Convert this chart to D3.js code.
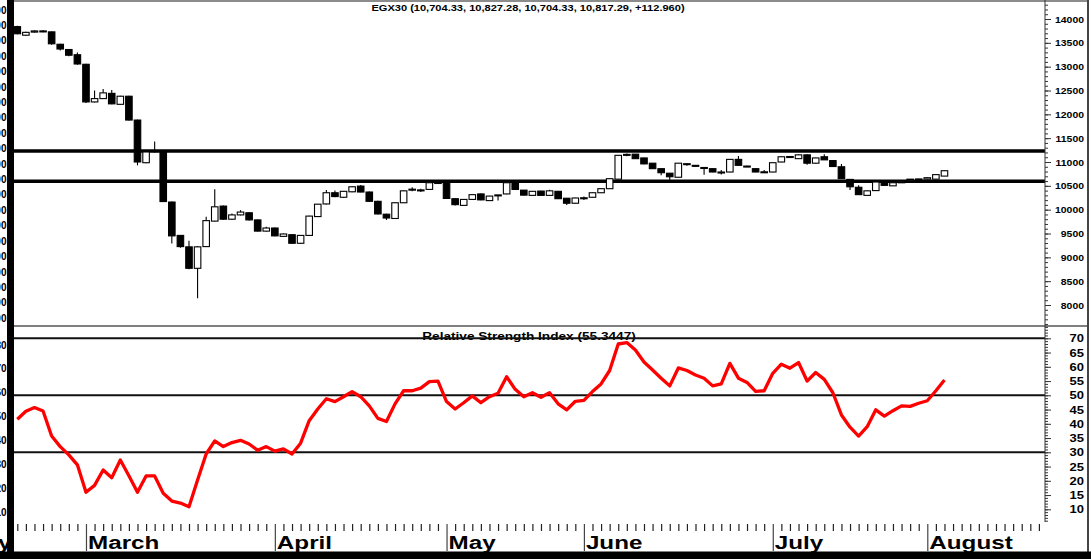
<!DOCTYPE html>
<html>
<head>
<meta charset="utf-8">
<script src="https://cdn.jsdelivr.net/npm/d3@7"></script>
<style>
  body { margin: 0; background: #fff; }
  svg { display: block; font-family: "Liberation Sans", Arial, sans-serif; font-weight: bold; }
</style>
</head>
<body>
<main></main>
<script>
// Data (one value per trading day, Feb - Aug)
const opens = [13840,13660,13725,13740,13730,13470,13360,13250,13050,12260,
  12330,12440,12210,12380,11880,10985,11220,11210,10160,9460,
  9220,8770,9225,9760,10075,9800,9890,9935,9785,9550,
  9615,9440,9475,9295,9460,9855,10120,10355,10260,10375,
  10495,10370,10175,9905,9815,10145,10420,10410,10425,10560,
  10590,10230,10090,10215,10330,10190,10300,10330,10590,10410,
  10300,10390,10300,10385,10240,10135,10240,10260,10355,10440,
  10640,11150,11165,11085,10975,10860,10765,10680,10955,10930,
  10875,10860,10780,10790,11055,10915,10860,10785,10790,11000,
  11115,11070,11150,10975,11110,11030,10900,10635,10470,10300,
  10400,10595,10500,10570,10630,10635,10640,10640,10704.33];
const highs = [13860,13730,13760,13770,13740,13480,13370,13295,13060,12500,
  12530,12510,12390,12390,11890,11215,11430,11220,10170,9470,
  9350,9230,9850,10430,10085,9920,9990,9945,9795,9640,
  9625,9500,9485,9470,9870,10120,10410,10400,10390,10490,
  10520,10380,10185,9915,10150,10400,10470,10440,10580,10600,
  10600,10240,10220,10320,10340,10290,10315,10570,10620,10415,
  10390,10395,10420,10390,10245,10250,10275,10360,10445,10655,
  11145,11180,11170,11090,10980,10865,10770,10980,10975,10935,
  10890,10865,10830,11060,11125,10920,10865,10830,10990,11115,
  11120,11160,11160,11090,11165,11035,10960,10640,10510,10400,
  10585,10600,10570,10590,10645,10650,10680,10740,10827.28];
const lows = [13680,13650,13715,13720,13460,13340,13220,13040,12240,12250,
  12320,12210,12200,11870,10930,10975,11200,10160,9290,9200,
  8750,8140,9215,9750,9790,9790,9880,9775,9540,9540,
  9440,9430,9285,9285,9455,9850,10110,10260,10250,10365,
  10365,10165,9900,9783,9810,10140,10385,10370,10420,10540,
  10225,10090,10085,10210,10195,10185,10190,10325,10420,10295,
  10295,10295,10295,10225,10100,10130,10205,10255,10350,10435,
  10635,11120,11065,10955,10855,10720,10620,10675,10920,10910,
  10735,10785,10740,10785,10925,10895,10785,10780,10785,10995,
  11100,11065,10940,10970,11040,10900,10645,10410,10310,10295,
  10395,10505,10495,10565,10625,10630,10635,10635,10704.33];
const closes = [13690,13720,13750,13750,13480,13370,13240,13056,12260,12330,
  12450,12220,12380,11880,11000,11210,11240,10170,9450,9225,
  8770,9220,9770,10060,9800,9890,9950,9785,9550,9615,
  9450,9490,9295,9460,9865,10115,10355,10275,10385,10480,
  10370,10175,9910,9825,10145,10395,10430,10415,10565,10570,
  10235,10105,10215,10315,10205,10285,10310,10565,10425,10305,
  10385,10300,10395,10230,10135,10245,10250,10355,10440,10650,
  11140,11160,11070,10960,10860,10775,10690,10975,10965,10915,
  10885,10790,10790,11055,10930,10900,10790,10795,10985,11110,
  11105,11150,10975,11085,11045,10905,10650,10480,10315,10395,
  10580,10510,10565,10585,10640,10645,10670,10735,10817.29];
const rsi = [41.6,44.4,45.7,44.5,35.7,32.0,29.1,25.6,16.0,18.4,
  23.8,21.1,27.3,21.8,16.0,21.7,21.7,15.6,12.9,12.2,
  10.9,20.3,29.4,34.0,32.0,33.4,34.2,32.9,30.7,32.0,
  30.4,31.2,29.4,33.2,41.1,45.2,48.8,47.8,49.5,51.3,
  49.5,46.3,41.9,40.8,47.0,51.6,51.6,52.5,54.8,55.0,
  47.8,45.2,47.4,49.8,47.4,49.5,50.7,56.5,52.1,49.5,
  50.9,49.3,50.9,47.0,44.9,47.9,48.2,51.3,54.0,58.7,
  68.0,68.5,65.9,61.7,58.9,56.0,53.3,59.6,58.7,57.1,
  56.0,53.3,54.0,61.2,56.0,54.5,51.4,51.6,57.7,60.9,
  59.5,61.5,55.0,58.0,55.6,50.9,43.1,38.8,35.7,39.0,
  44.9,42.7,44.6,46.3,46.1,47.2,48.1,51.6,55.34];

const priceTicks = [8000, 8500, 9000, 9500, 10000, 10500, 11000, 11500, 12000, 12500, 13000, 13500, 14000];
const rsiTicks = [10, 15, 20, 25, 30, 35, 40, 45, 50, 55, 60, 65, 70];
const priceLevels = [11230, 10595];
const rsiLevels = [70, 50, 30];
const months = ["February", "March", "April", "May", "June", "July", "August"];
const monthStarts = [-13, 8, 30, 50, 66, 88, 106];
// left-hand axis of the original chart, cut off at the frame edge
const leftPriceLabels = [14400, 14100, 13800, 13500, 13200, 12900, 12600, 12300, 12000, 11700, 11400,
  11100, 10800, 10500, 10200, 9900, 9600, 9300, 9000, 8700, 8400];
const leftRsiLabels = [80, 70, 60, 50, 40, 30, 20, 10];

const titleText = "EGX30 (10,704.33, 10,827.28, 10,704.33, 10,817.29, +112.960)";
const rsiTitle = "Relative Strength Index (55.3447)";

// Dimensions
const width = 1091;
const height = 559;
const plotLeft = 14;
const axisX = 1045;

const svg = d3.select("main")
  .append("svg")
  .attr("width", width)
  .attr("height", height);

// Scales
const lastSlot = 119;
const x = d3.scaleLinear().domain([0, lastSlot]).range([17.3, 1038.9]);
const yPrice = d3.scaleLinear().domain([8000, 14000]).range([305, 19]);
const yRsi = d3.scaleLinear().domain([30, 70]).range([452.3, 338.3]);
const yLeftPrice = d3.scaleLinear().domain([14400, 8400]).range([10, 318.3]);
const yLeftRsi = d3.scaleLinear().domain([80, 10]).range([345, 512.7]);
const bodyW = (x(1) - x(0)) * 0.76;

// Frame
svg.append("line")
  .attr("x1", plotLeft).attr("x2", 1088).attr("y1", 1).attr("y2", 1)
  .attr("stroke", "#666").attr("stroke-width", 1.5);
svg.append("line")
  .attr("x1", plotLeft).attr("x2", 1088).attr("y1", 326).attr("y2", 326)
  .attr("stroke", "#555").attr("stroke-width", 1.5);
svg.append("line")
  .attr("x1", 1088).attr("x2", 1088).attr("y1", 0).attr("y2", height)
  .attr("stroke", "#444").attr("stroke-width", 2);

// Price levels
svg.selectAll(".plevel")
  .data(priceLevels)
  .enter()
  .append("line")
  .attr("x1", plotLeft).attr("x2", axisX)
  .attr("y1", d => yPrice(d)).attr("y2", d => yPrice(d))
  .attr("stroke", "#000").attr("stroke-width", 3.5);

// Candles
const idx = d3.range(opens.length);
svg.selectAll(".wick")
  .data(idx)
  .enter()
  .append("line")
  .attr("x1", i => x(i)).attr("x2", i => x(i))
  .attr("y1", i => yPrice(highs[i])).attr("y2", i => yPrice(lows[i]))
  .attr("stroke", "#000").attr("stroke-width", 1.1);

svg.selectAll(".body")
  .data(idx)
  .enter()
  .append("rect")
  .attr("x", i => x(i) - bodyW / 2)
  .attr("y", i => yPrice(Math.max(opens[i], closes[i])))
  .attr("width", bodyW)
  .attr("height", i => Math.max(1, Math.abs(yPrice(opens[i]) - yPrice(closes[i]))))
  .attr("fill", i => closes[i] >= opens[i] ? "#fff" : "#000")
  .attr("stroke", "#000")
  .attr("stroke-width", 1.1);

// Title
svg.append("text")
  .attr("transform", "translate(528,11) scale(1.13,1)")
  .attr("text-anchor", "middle")
  .attr("font-size", 9.8)
  .text(titleText);

// RSI panel
svg.append("text")
  .attr("transform", "translate(529,339.5) scale(1.24,1)")
  .attr("text-anchor", "middle")
  .attr("font-size", 11)
  .text(rsiTitle);

svg.selectAll(".rlevel")
  .data(rsiLevels)
  .enter()
  .append("line")
  .attr("x1", plotLeft).attr("x2", axisX)
  .attr("y1", d => yRsi(d)).attr("y2", d => yRsi(d))
  .attr("stroke", "#111").attr("stroke-width", 2);

const rsiLine = d3.line()
  .x((d, i) => x(i))
  .y(d => yRsi(d));

svg.append("path")
  .datum(rsi)
  .attr("d", rsiLine)
  .attr("fill", "none")
  .attr("stroke", "#ff0000")
  .attr("stroke-width", 3.3)
  .attr("stroke-linejoin", "round");

// Right axes
svg.append("line")
  .attr("x1", axisX).attr("x2", axisX).attr("y1", 0).attr("y2", 522)
  .attr("stroke", "#333").attr("stroke-width", 1);

function styleAxis(g, sx) {
  g.select(".domain").remove();
  g.selectAll("line").attr("stroke", "#333");
  g.attr("font-family", null).attr("font-size", null);
  g.selectAll("text")
    .attr("x", 0)
    .attr("dy", "0.35em")
    .attr("fill", "#000")
    .attr("text-anchor", "end")
    .attr("transform", `translate(39,0) scale(${sx},1)`);
}

svg.append("g")
  .attr("transform", `translate(${axisX},0)`)
  .call(d3.axisRight(yPrice).tickValues(d3.range(7600, 14301, 100)).tickSize(3).tickFormat(""))
  .call(g => g.select(".domain").remove())
  .selectAll("line").attr("stroke", "#333");

svg.append("g")
  .attr("transform", `translate(${axisX},0)`)
  .call(d3.axisRight(yPrice).tickValues(priceTicks).tickSize(6).tickFormat(d3.format("d")))
  .call(g => styleAxis(g, 1.16))
  .selectAll("text").attr("font-size", 9);

svg.append("g")
  .attr("transform", `translate(${axisX},0)`)
  .call(d3.axisRight(yRsi).tickValues(d3.range(6, 75, 1)).tickSize(3).tickFormat(""))
  .call(g => g.select(".domain").remove())
  .selectAll("line").attr("stroke", "#333");

svg.append("g")
  .attr("transform", `translate(${axisX},0)`)
  .call(d3.axisRight(yRsi).tickValues(rsiTicks).tickSize(6).tickFormat(d3.format("d")))
  .call(g => styleAxis(g, 1.3))
  .selectAll("text").attr("font-size", 10);

// Left labels (cut by the edge)
svg.selectAll(".lp")
  .data(leftPriceLabels)
  .enter()
  .append("text")
  .attr("x", 6.5)
  .attr("y", d => yLeftPrice(d))
  .attr("dy", "0.35em")
  .attr("text-anchor", "end")
  .attr("font-size", 10)
  .text(d => d);

svg.selectAll(".lr")
  .data(leftRsiLabels)
  .enter()
  .append("text")
  .attr("x", 6.5)
  .attr("y", d => yLeftRsi(d))
  .attr("dy", "0.35em")
  .attr("text-anchor", "end")
  .attr("font-size", 10)
  .text(d => d);

// Time axis
const dayTicks = d3.range(0, lastSlot + 1).filter(i => !monthStarts.includes(i));
svg.append("g")
  .attr("transform", "translate(0,524)")
  .call(d3.axisBottom(x).tickValues(dayTicks).tickSize(7).tickFormat(""))
  .call(g => g.select(".domain").remove())
  .selectAll("line").attr("stroke", "#222").attr("stroke-width", 1.2);

svg.append("g")
  .attr("transform", "translate(0,524)")
  .call(d3.axisBottom(x).tickValues(monthStarts).tickSize(27).tickFormat(""))
  .call(g => g.select(".domain").remove())
  .selectAll("line").attr("stroke", "#444").attr("stroke-width", 1.2);

svg.selectAll(".month")
  .data(months)
  .enter()
  .append("text")
  .attr("transform", (d, i) => `translate(${x(monthStarts[i]) + 2},549) scale(1.31,1)`)
  .attr("font-size", 18.5)
  .text(d => d);

// Black frame strips
svg.append("rect")
  .attr("x", 7).attr("y", 0).attr("width", 7).attr("height", height)
  .attr("fill", "#000");
svg.append("rect")
  .attr("x", 0).attr("y", 551.5).attr("width", width).attr("height", height - 551.5)
  .attr("fill", "#000");
</script>
</body>
</html>
